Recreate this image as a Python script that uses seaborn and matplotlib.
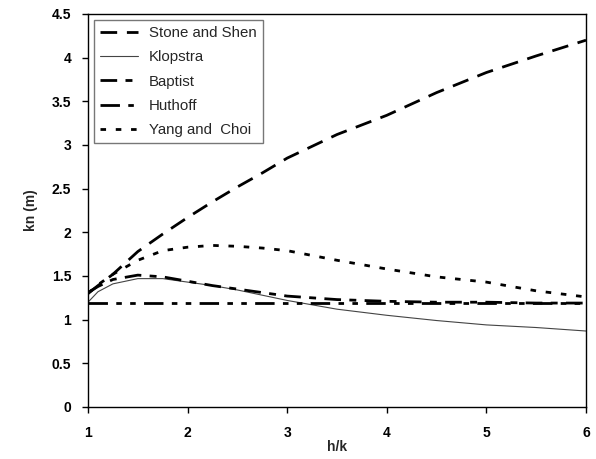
import pandas as pd
import seaborn as sns
import matplotlib.pyplot as plt

sns.set_style('white')
plt.rcParams['font.family'] = ['Liberation Sans', 'DejaVu Sans']

# values
hk = [1, 1.1, 1.25, 1.5, 1.75, 2, 2.25, 2.5, 2.75, 3, 3.5, 4, 4.5, 5, 5.5, 6]
stone = [1.30, 1.39, 1.52, 1.78, 1.98, 2.17, 2.35, 2.52, 2.68, 2.85, 3.12, 3.34, 3.60, 3.83, 4.02, 4.20]
klopstra = [1.20, 1.32, 1.41, 1.47, 1.47, 1.43, 1.39, 1.34, 1.28, 1.22, 1.12, 1.05, 0.99, 0.94, 0.91, 0.87]
baptist = [1.31, 1.38, 1.46, 1.51, 1.49, 1.44, 1.39, 1.35, 1.31, 1.27, 1.23, 1.21, 1.20, 1.20, 1.19, 1.19]
huthoff = [1.19] * 16
yang = [1.30, 1.40, 1.52, 1.68, 1.79, 1.83, 1.85, 1.84, 1.82, 1.79, 1.68, 1.58, 1.49, 1.43, 1.33, 1.26]

df = pd.DataFrame({'hk': hk, 'Stone and Shen': stone, 'Klopstra': klopstra,
                   'Baptist': baptist, 'Huthoff': huthoff, 'Yang and  Choi': yang})

styles = {
    'Stone and Shen': ((0, (6, 3.5)), 2.0, 'black'),
    'Klopstra': ('-', 0.8, '#444444'),
    'Baptist': ((0, (6, 3, 2.5, 3)), 2.0, 'black'),
    'Huthoff': ((0, (7, 3, 2, 3, 2, 3)), 2.0, 'black'),
    'Yang and  Choi': ((0, (2, 3.5)), 2.0, 'black'),
}

fig = plt.figure(figsize=(5.96, 4.59), dpi=100)
ax = fig.add_axes([0.1477, 0.1133, 0.8355, 0.8562])
for name, (ls, lw, c) in styles.items():
    sns.lineplot(x='hk', y=name, data=df, ax=ax, color=c, linewidth=lw,
                 linestyle=ls, label=name)

ax.set_xlim(1, 6)
ax.set_ylim(0, 4.5)
ax.set_xticks([1, 2, 3, 4, 5, 6])
ax.set_yticks([0, 0.5, 1, 1.5, 2, 2.5, 3, 3.5, 4, 4.5])
ax.set_yticklabels(['0', '0.5', '1', '1.5', '2', '2.5', '3', '3.5', '4', '4.5'])
ax.tick_params(axis='both', direction='out', length=4, width=1, labelsize=10,
               bottom=True, left=True, top=False, right=False, colors='black')
ax.tick_params(axis='x', pad=10)
ax.tick_params(axis='y', pad=8)
for lab in ax.get_xticklabels() + ax.get_yticklabels():
    lab.set_fontweight('bold')
ax.set_xlabel('h/k', fontsize=10, fontweight='bold', labelpad=0)
ax.set_ylabel('kn (m)', fontsize=10, fontweight='bold', labelpad=10)
for s in ax.spines.values():
    s.set_color('black')
    s.set_linewidth(1)

leg = ax.legend(loc='upper left', fontsize=10.8, frameon=True, fancybox=False,
                borderaxespad=0.42, handlelength=2.5, labelspacing=0.68,
                borderpad=0.4, handletextpad=0.75)
leg.get_frame().set_edgecolor('#555555')
leg.get_frame().set_linewidth(1)

fig.savefig('out.png', dpi=100)
